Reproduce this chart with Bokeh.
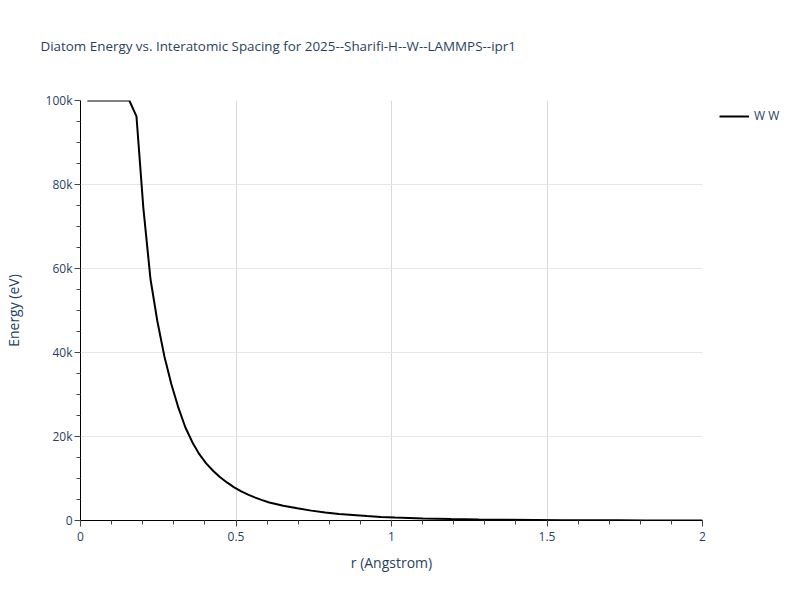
from bokeh.plotting import figure
from bokeh.models import (ColumnDataSource, Legend, LegendItem, SingleIntervalTicker,
                          NumeralTickFormatter, Range1d, FixedTicker)
from bokeh.embed import file_html
from bokeh.resources import INLINE

# Data
r_angstrom = [0.022, 0.045, 0.067, 0.090, 0.112, 0.135, 0.157, 0.180, 0.202, 0.225,
              0.247, 0.270, 0.292, 0.315, 0.337, 0.360, 0.382, 0.404, 0.427, 0.449,
              0.472, 0.494, 0.517, 0.539, 0.562, 0.584, 0.607, 0.652, 0.697, 0.742,
              0.787, 0.831, 0.876, 0.921, 0.966, 1.011, 1.101, 1.191, 1.281, 1.371,
              1.461, 1.551, 1.640, 1.730, 1.820, 1.910, 2.000]
energy_ev = [100000, 100000, 100000, 100000, 100000, 100000, 100000, 96200, 74500, 57500,
             47500, 39000, 32500, 26800, 22200, 18600, 15800, 13600, 11800, 10300,
             9000, 7900, 6950, 6150, 5450, 4850, 4300, 3500, 2900, 2350,
             1900, 1550, 1300, 1050, 850, 700, 480, 340, 240, 170,
             120, 85, 60, 40, 25, 15, 8]
series_label = "W W"
title_text = "Diatom Energy vs. Interatomic Spacing for 2025--Sharifi-H--W--LAMMPS--ipr1"
x_title = "r (Angstrom)"
y_title = "Energy (eV)"

FONT = "Open Sans"
TXT = "#2a3f5f"

src = ColumnDataSource(dict(r=r_angstrom, e=energy_ev))

p = figure(frame_width=622, frame_height=420,
           min_border_left=72, min_border_right=90, min_border_top=100, min_border_bottom=64,
           x_range=Range1d(0, 2), y_range=Range1d(0, 100000),
           output_backend="svg", toolbar_location=None)
p.background_fill_color = "white"
p.border_fill_color = "white"
p.outline_line_color = None

# a blank second line lifts the title within its panel
p.title.text = title_text + "\n "
p.title.text_font = FONT
p.title.text_font_size = "13.4px"
p.title.text_font_style = "normal"
p.title.text_color = TXT
p.title.align = "left"
p.title.offset = -40
p.title.standoff = 56

ln = p.line("r", "e", source=src, line_color="black", line_width=2)

# axes
p.xaxis.ticker = SingleIntervalTicker(interval=0.5, num_minor_ticks=5)
p.yaxis.ticker = SingleIntervalTicker(interval=20000, num_minor_ticks=4)
p.xaxis.formatter = NumeralTickFormatter(format="0.[0]")
p.yaxis.formatter = NumeralTickFormatter(format="0a")
for ax in (p.xaxis[0], p.yaxis[0]):
    ax.axis_line_color = "black"
    ax.axis_line_width = 1
    ax.major_tick_line_color = "#444444"
    ax.minor_tick_line_color = "#444444"
    ax.major_tick_out = 6
    ax.major_tick_in = 0
    ax.minor_tick_out = 4
    ax.minor_tick_in = 0
    ax.major_label_text_font = FONT
    ax.major_label_text_font_size = "12px"
    ax.major_label_text_color = TXT
    ax.axis_label_text_font = FONT
    ax.axis_label_text_font_size = "14px"
    ax.axis_label_text_font_style = "normal"
    ax.axis_label_text_color = TXT
p.xaxis.axis_label = x_title
p.yaxis.axis_label = y_title
p.xaxis.major_label_standoff = 5
p.xaxis.axis_label_standoff = 9
p.yaxis.major_label_standoff = 2
p.yaxis.axis_label_standoff = 20

p.xgrid.ticker = FixedTicker(ticks=[0.5, 1.0, 1.5])
p.ygrid.ticker = FixedTicker(ticks=[20000, 40000, 60000, 80000])
p.xgrid.grid_line_color = "#d9d9d9"
p.ygrid.grid_line_color = "#e6e6e6"

legend = Legend(items=[LegendItem(label=series_label, renderers=[ln])],
                location=(17, 396), border_line_color=None,
                background_fill_alpha=0, glyph_width=30, glyph_height=4,
                label_height=4, label_standoff=5, label_text_font=FONT,
                label_text_font_size="12px", label_text_color=TXT,
                margin=0, padding=0)
p.add_layout(legend, "right")

open("out.html", "w").write(file_html(p, INLINE))
